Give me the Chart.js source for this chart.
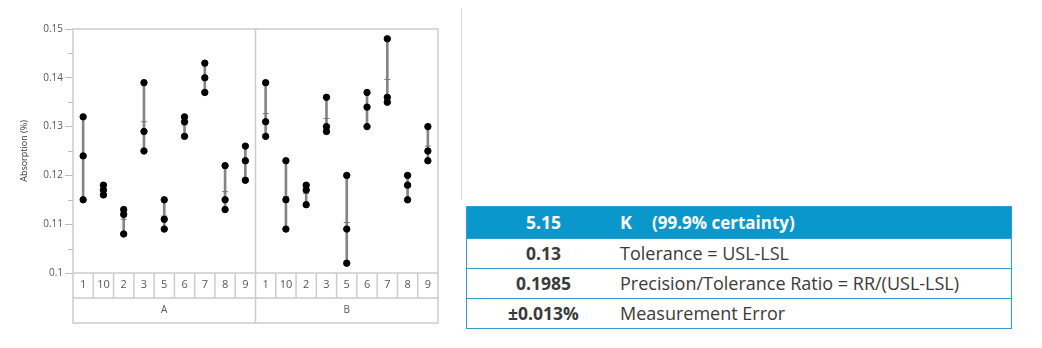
<!DOCTYPE html>
<html>
<head>
<meta charset="utf-8">
<script src="https://cdn.jsdelivr.net/npm/chart.js@4.4.1/dist/chart.umd.min.js"></script>
<style>
  body { margin: 0; background: #fff; width: 1042px; height: 348px; position: relative; overflow: hidden; font-family: "Open Sans", sans-serif; }
  #varChart { position: absolute; left: 0; top: 0; }
  .divider { position: absolute; left: 461px; top: 8px; width: 1px; height: 192px; background: #d8d8d8; }
  table.stats { position: absolute; left: 466px; top: 206px; width: 546px; border-collapse: collapse; border: 1px solid #2f9fd2; }
  table.stats td { height: 27px; padding: 0 0 2px 0; border-bottom: 1px solid #2f9fd2; font-size: 18px; color: #3a3a3a; }
  table.stats td.num { width: 153px; text-align: center; font-weight: bold; font-size: 17.5px; }
  table.stats tr.head td { background: #0a98cc; color: #fff; font-weight: bold; height: 29px; }
</style>
</head>
<body>
<canvas id="varChart" width="450" height="348"></canvas>
<div class="divider"></div>
<table class="stats" id="stats"></table>
<script>
// parts measured within each operator panel
const parts = ["1", "10", "2", "3", "5", "6", "7", "8", "9"];
const operators = ["A", "B"];

// three absorption readings per part, operator A then operator B
const reading1 = [0.132, 0.118, 0.113, 0.139, 0.115, 0.132, 0.143, 0.122, 0.126,
                  0.139, 0.123, 0.118, 0.136, 0.120, 0.137, 0.148, 0.120, 0.130];
const reading2 = [0.124, 0.117, 0.112, 0.129, 0.111, 0.131, 0.140, 0.115, 0.123,
                  0.131, 0.115, 0.117, 0.130, 0.109, 0.134, 0.136, 0.118, 0.125];
const reading3 = [0.115, 0.116, 0.108, 0.125, 0.109, 0.128, 0.137, 0.113, 0.119,
                  0.128, 0.109, 0.114, 0.129, 0.102, 0.130, 0.135, 0.115, 0.123];

const yTicks = [0.1, 0.11, 0.12, 0.13, 0.14, 0.15];

// gauge summary rows
const statValues = ["5.15", "0.13", "0.1985", "±0.013%"];
const statNames = ["K", "Tolerance = USL-LSL", "Precision/Tolerance Ratio = RR/(USL-LSL)", "Measurement Error"];

const labels = [];
operators.forEach(() => parts.forEach((p) => labels.push(p)));

const ranges = reading1.map((v, i) => {
  const vals = [v, reading2[i], reading3[i]];
  return [Math.min(...vals), Math.max(...vals)];
});
const means = reading1.map((v, i) => (v + reading2[i] + reading3[i]) / 3);

const frameColor = "#cccccc";
const textColor = "#555";

// frame, part / operator boxes and minor y ticks
const framePlugin = {
  id: "framePlugin",
  afterDraw(chart) {
    const { ctx, chartArea: a, scales } = chart;
    const y = scales.y;
    const bottom = a.bottom + 50;
    const rowY = a.bottom + 25;
    const step = (a.right - a.left) / labels.length;
    ctx.save();
    ctx.strokeStyle = frameColor;
    ctx.lineWidth = 1.5;
    ctx.strokeRect(a.left, a.top, a.right - a.left, bottom - a.top);
    ctx.beginPath();
    ctx.moveTo(a.left, a.bottom); ctx.lineTo(a.right, a.bottom);
    ctx.moveTo(a.left, rowY); ctx.lineTo(a.right, rowY);
    for (let i = 1; i < labels.length; i++) {
      const px = a.left + step * i;
      if (i % parts.length === 0) {
        ctx.moveTo(px, a.top); ctx.lineTo(px, bottom);
      } else {
        ctx.moveTo(px, a.bottom); ctx.lineTo(px, rowY);
      }
    }
    ctx.stroke();

    // operator names
    ctx.fillStyle = textColor;
    ctx.font = "10px 'Open Sans'";
    ctx.textAlign = "center";
    ctx.textBaseline = "middle";
    operators.forEach((op, k) => {
      const cx = a.left + step * parts.length * (k + 0.5);
      ctx.fillText(op, cx, (rowY + bottom) / 2);
    });

    // minor ticks between the labelled ones
    ctx.strokeStyle = "#bdbdbd";
    ctx.lineWidth = 1;
    ctx.beginPath();
    for (let i = 0; i < yTicks.length - 1; i++) {
      const py = Math.round(y.getPixelForValue((yTicks[i] + yTicks[i + 1]) / 2)) + 0.5;
      ctx.moveTo(a.left - 5, py); ctx.lineTo(a.left, py);
    }
    ctx.stroke();
    ctx.restore();
  }
};

function dots(values) {
  return {
    type: "line",
    data: values,
    showLine: false,
    pointRadius: 3.2,
    pointBackgroundColor: "#000",
    pointBorderColor: "#000",
    order: 1
  };
}

new Chart(document.getElementById("varChart"), {
  type: "bar",
  data: {
    labels: labels,
    datasets: [
      dots(reading1),
      dots(reading2),
      dots(reading3),
      {
        type: "line",
        data: means,
        showLine: false,
        pointStyle: "line",
        pointRadius: 3,
        pointBorderColor: "#777",
        pointBorderWidth: 1,
        order: 2
      },
      {
        data: ranges,
        backgroundColor: "#858585",
        barThickness: 2,
        order: 3
      }
    ]
  },
  options: {
    responsive: false,
    animation: false,
    layout: { padding: { left: 0, right: 12, top: 29, bottom: 25 } },
    plugins: { legend: { display: false }, tooltip: { enabled: false } },
    scales: {
      x: {
        type: "category",
        offset: true,
        grid: { display: false, drawTicks: false },
        border: { display: false },
        ticks: { color: textColor, font: { family: "Open Sans", size: 11 }, padding: 5, maxRotation: 0, autoSkip: false },
        afterFit: (scale) => { scale.height = 50; }
      },
      y: {
        min: 0.1,
        max: 0.15,
        afterBuildTicks: (scale) => { scale.ticks = yTicks.map((v) => ({ value: v })); },
        grid: { drawOnChartArea: false, tickLength: 8, tickColor: "#bdbdbd" },
        border: { display: false },
        ticks: {
          color: textColor,
          font: { family: "Open Sans", size: 10 },
          padding: 2,
          callback: (v) => String(+v.toFixed(3))
        },
        title: {
          display: true,
          text: "Absorption (%)",
          color: "#333",
          font: { family: "Open Sans", size: 9 },
          padding: { top: 19, bottom: 0 }
        },
        afterFit: (scale) => { scale.width = 73; }
      }
    }
  },
  plugins: [framePlugin]
});

// summary table
const table = document.getElementById("stats");
statValues.forEach((v, i) => {
  const tr = document.createElement("tr");
  if (i === 0) tr.className = "head";
  const a = document.createElement("td");
  a.className = "num";
  a.textContent = v;
  const b = document.createElement("td");
  if (i === 0) {
    b.innerHTML = statNames[i] + '<span style="margin-left:20px;font-size:17px">(99.9% certainty)</span>';
  } else {
    b.textContent = statNames[i];
  }
  tr.appendChild(a);
  tr.appendChild(b);
  table.appendChild(tr);
});
</script>
</body>
</html>
